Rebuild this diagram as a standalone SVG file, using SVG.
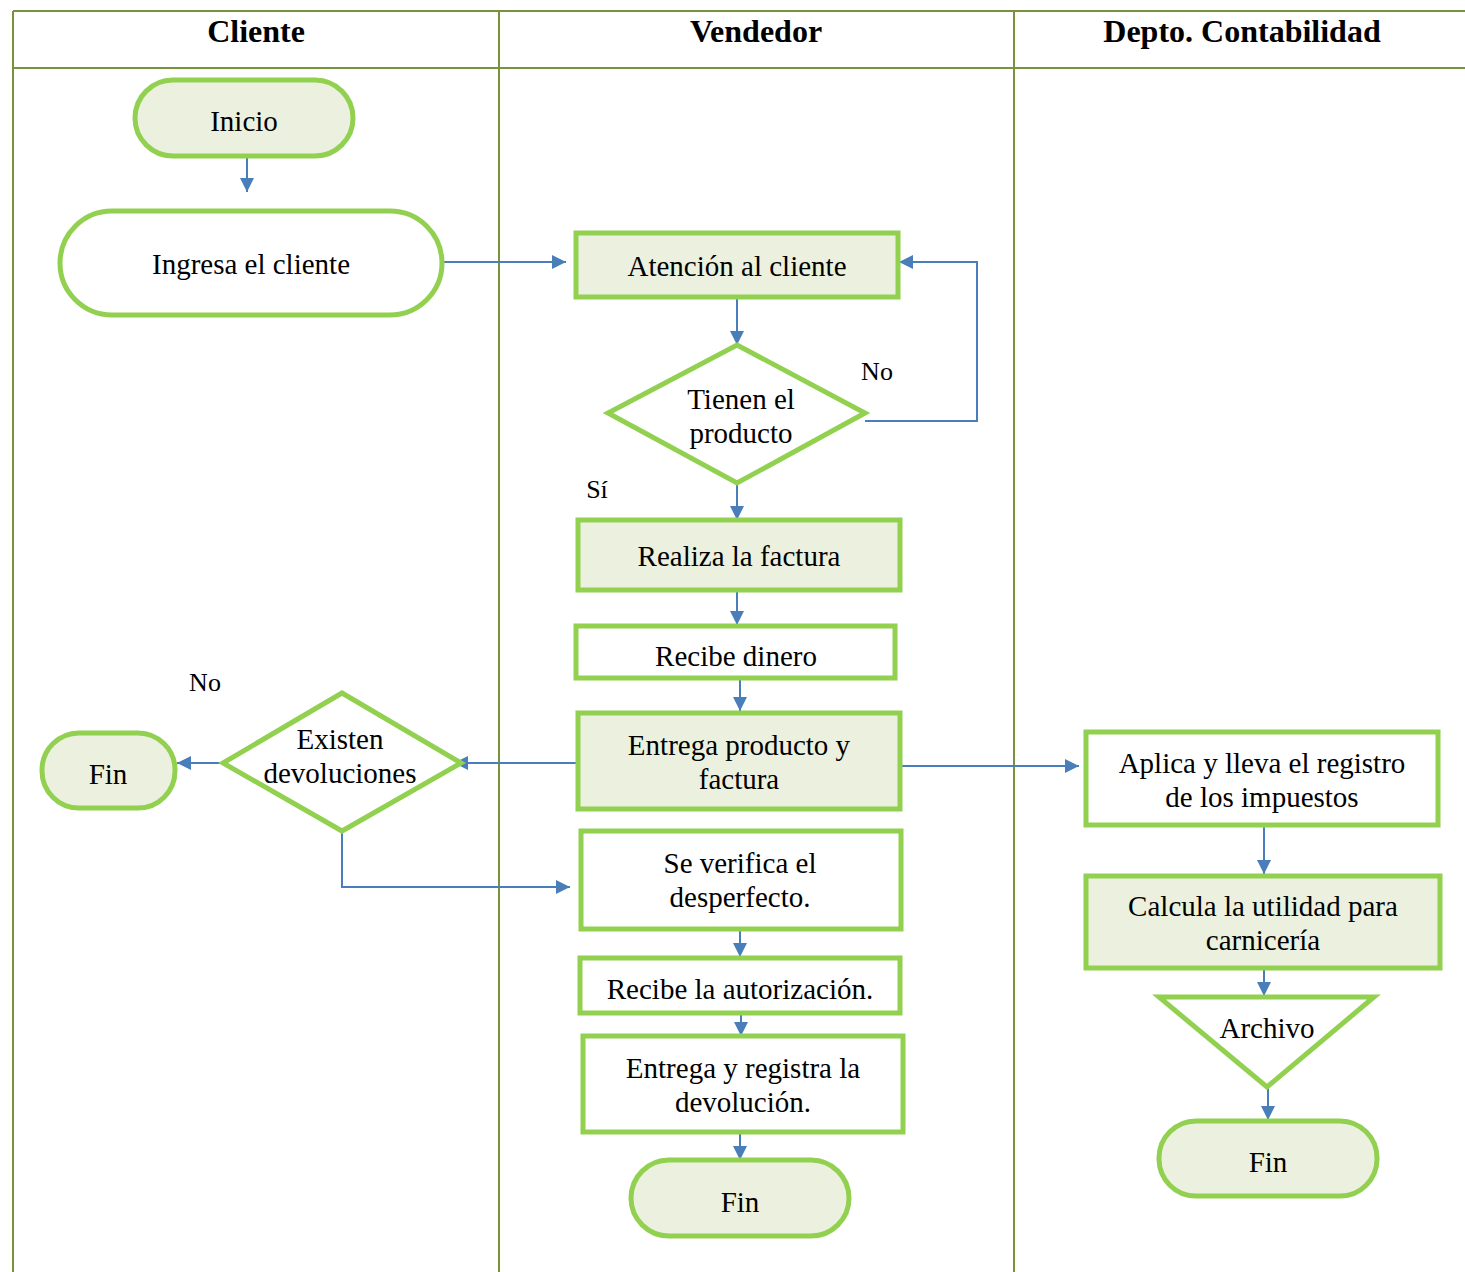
<svg xmlns="http://www.w3.org/2000/svg" width="1465" height="1272" viewBox="0 0 1465 1272">
<style>
.lane{stroke:#77933C;stroke-width:2;fill:none}
.hd{font-family:"Liberation Serif","Times New Roman",serif;font-weight:bold;font-size:32px;fill:#000;text-anchor:middle}
.t{font-family:"Liberation Serif","Times New Roman",serif;font-size:29px;fill:#000;text-anchor:middle}
.lb{font-family:"Liberation Serif","Times New Roman",serif;font-size:26px;fill:#000;text-anchor:middle}
.nf{fill:#EBF1DE;stroke:#92D050;stroke-width:5}
.nw{fill:#FFFFFF;stroke:#92D050;stroke-width:5}
.c{fill:none;stroke:#4A7EBB;stroke-width:2}
</style>
<defs>
<marker id="ah" viewBox="0 0 10 10" refX="10" refY="5" markerWidth="7" markerHeight="7" markerUnits="strokeWidth" orient="auto">
<path d="M0,0 L10,5 L0,10 z" fill="#4A7EBB"/>
</marker>
</defs>
<rect width="1465" height="1272" fill="#FFFFFF"/>
<g id="lanes">
<line class="lane" x1="13" y1="11" x2="1465" y2="11"/>
<line class="lane" x1="13" y1="68" x2="1465" y2="68"/>
<line class="lane" x1="13" y1="11" x2="13" y2="1272"/>
<line class="lane" x1="499" y1="11" x2="499" y2="1272"/>
<line class="lane" x1="1014" y1="11" x2="1014" y2="1272"/>
<text class="hd" x="256" y="42">Cliente</text>
<text class="hd" x="756" y="42">Vendedor</text>
<text class="hd" x="1242" y="42">Depto. Contabilidad</text>
</g>
<g id="connectors">
<line class="c" x1="247" y1="156" x2="247" y2="192" marker-end="url(#ah)"/>
<line class="c" x1="442" y1="262" x2="566" y2="262" marker-end="url(#ah)"/>
<line class="c" x1="737" y1="297" x2="737" y2="345" marker-end="url(#ah)"/>
<polyline class="c" points="865,421 977,421 977,262 899,262" marker-end="url(#ah)"/>
<line class="c" x1="737" y1="483" x2="737" y2="520" marker-end="url(#ah)"/>
<line class="c" x1="737" y1="590" x2="737" y2="625" marker-end="url(#ah)"/>
<line class="c" x1="740" y1="678" x2="740" y2="711" marker-end="url(#ah)"/>
<line class="c" x1="578" y1="763" x2="454" y2="763" marker-end="url(#ah)"/>
<line class="c" x1="220" y1="763" x2="177" y2="763" marker-end="url(#ah)"/>
<polyline class="c" points="342,831 342,887 570,887" marker-end="url(#ah)"/>
<line class="c" x1="900" y1="766" x2="1079" y2="766" marker-end="url(#ah)"/>
<line class="c" x1="740" y1="929" x2="740" y2="957" marker-end="url(#ah)"/>
<line class="c" x1="741" y1="1013" x2="741" y2="1036" marker-end="url(#ah)"/>
<line class="c" x1="740" y1="1132" x2="740" y2="1160" marker-end="url(#ah)"/>
<line class="c" x1="1264" y1="825" x2="1264" y2="874" marker-end="url(#ah)"/>
<line class="c" x1="1264" y1="968" x2="1264" y2="996" marker-end="url(#ah)"/>
<line class="c" x1="1268" y1="1088" x2="1268" y2="1120" marker-end="url(#ah)"/>
</g>
<g id="labels">
<text class="lb" x="877" y="380">No</text>
<text class="lb" x="597" y="498">Sí</text>
<text class="lb" x="205" y="691">No</text>
</g>
<g id="inicio">
<rect class="nf" x="135" y="80" width="218" height="76" rx="38"/>
<text class="t" x="244" y="131">Inicio</text>
</g>
<g id="ingresa">
<rect class="nw" x="60" y="211" width="382" height="104" rx="52"/>
<text class="t" x="251" y="274">Ingresa el cliente</text>
</g>
<g id="atencion">
<rect class="nf" x="576" y="233" width="322" height="64"/>
<text class="t" x="737" y="276">Atención al cliente</text>
</g>
<g id="tienen">
<polygon class="nw" points="737,345 865,413 737,483 608,413"/>
<text class="t" x="741" y="409">Tienen el</text>
<text class="t" x="741" y="443">producto</text>
</g>
<g id="realiza">
<rect class="nf" x="578" y="520" width="322" height="70"/>
<text class="t" x="739" y="566">Realiza la factura</text>
</g>
<g id="recibe-dinero">
<rect class="nw" x="576" y="626" width="319" height="52"/>
<text class="t" x="736" y="666">Recibe dinero</text>
</g>
<g id="entrega-producto">
<rect class="nf" x="578" y="713" width="322" height="96"/>
<text class="t" x="739" y="755">Entrega producto y</text>
<text class="t" x="739" y="789">factura</text>
</g>
<g id="existen">
<polygon class="nw" points="342,693 461,763 342,831 223,763"/>
<text class="t" x="340" y="749">Existen</text>
<text class="t" x="340" y="783">devoluciones</text>
</g>
<g id="fin-cliente">
<rect class="nf" x="42" y="733" width="133" height="75" rx="37"/>
<text class="t" x="108" y="784">Fin</text>
</g>
<g id="verifica">
<rect class="nw" x="581" y="831" width="320" height="98"/>
<text class="t" x="740" y="873">Se verifica el</text>
<text class="t" x="740" y="907">desperfecto.</text>
</g>
<g id="autorizacion">
<rect class="nw" x="580" y="958" width="320" height="55"/>
<text class="t" x="740" y="999">Recibe la autorización.</text>
</g>
<g id="registra">
<rect class="nw" x="583" y="1036" width="320" height="96"/>
<text class="t" x="743" y="1078">Entrega y registra la</text>
<text class="t" x="743" y="1112">devolución.</text>
</g>
<g id="fin-vendedor">
<rect class="nf" x="631" y="1160" width="218" height="76" rx="38"/>
<text class="t" x="740" y="1212">Fin</text>
</g>
<g id="aplica">
<rect class="nw" x="1086" y="732" width="352" height="93"/>
<text class="t" x="1262" y="773">Aplica y lleva el registro</text>
<text class="t" x="1262" y="807">de los impuestos</text>
</g>
<g id="calcula">
<rect class="nf" x="1086" y="876" width="354" height="92"/>
<text class="t" x="1263" y="916">Calcula la utilidad para</text>
<text class="t" x="1263" y="950">carnicería</text>
</g>
<g id="archivo">
<polygon class="nw" points="1159,997 1374,997 1267,1087"/>
<text class="t" x="1267" y="1038">Archivo</text>
</g>
<g id="fin-conta">
<rect class="nf" x="1159" y="1121" width="218" height="75" rx="37"/>
<text class="t" x="1268" y="1172">Fin</text>
</g>
</svg>
